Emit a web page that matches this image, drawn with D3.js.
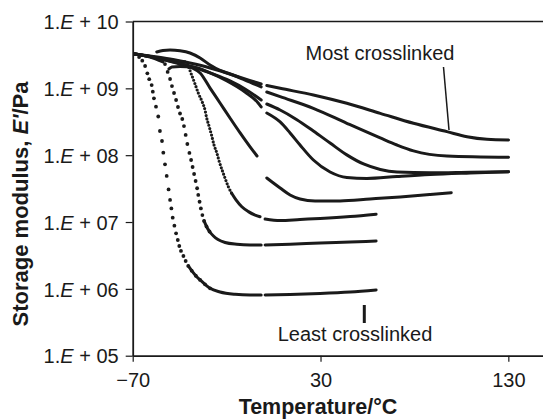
<!DOCTYPE html>
<html><head><meta charset="utf-8">
<script src="https://cdn.jsdelivr.net/npm/d3@7"></script>
<style>body{margin:0;background:#fff}svg{display:block}</style>
</head><body>
<svg id="c" width="543" height="419"></svg>
<script>
// ---- data (temperature °C, storage modulus Pa) ----
const tempTicks = [-70, 30, 130];
const modulusTicks = [1e5, 1e6, 1e7, 1e8, 1e9, 1e10];
const tickExponents = ["05", "06", "07", "08", "09", "10"];

// least crosslinked: individual measured points on the steep drop
const c1Dots = [[-68.8,3.26e9],[-66.6,2.94e9],[-64.9,2.59e9],[-63.4,2.16e9],[-62.2,1.68e9],[-61.2,1.37e9],[-59.9,1.12e9],[-59.3,8.91e8],[-58.7,7.10e8],[-57.6,5.31e8],[-56.4,3.79e8],[-55.5,2.30e8],[-54.4,1.63e8],[-53.7,1.09e8],[-52.8,7.31e7],[-51.9,4.89e7],[-50.9,3.07e7],[-50.1,2.14e7],[-49.4,1.60e7],[-48.7,1.16e7],[-47.8,8.81e6],[-46.9,6.78e6],[-46.0,5.38e6],[-45.2,4.38e6],[-44.3,3.69e6],[-43.0,3.10e6],[-41.8,2.61e6],[-40.4,2.20e6],[-38.6,1.87e6],[-36.4,1.57e6],[-34.1,1.36e6],[-31.5,1.17e6],[-28.8,1.02e6]];
const c1Line = [[-40.4,2.20e6],[-38.6,1.87e6],[-36.4,1.57e6],[-34.1,1.36e6],[-31.5,1.17e6],[-28.8,1.02e6],[-23.5,8.98e5],[-15.5,8.30e5],[-7.5,8.10e5],[-1.6,8.10e5],null,[0.5,8.10e5],[13.8,8.24e5],[29.8,8.53e5],[45.8,8.98e5],[59.6,9.62e5]];

const c2Dots = [[-52.8,2.31e9],[-51.4,1.76e9],[-50.1,1.38e9],[-49.1,1.08e9],[-48.0,8.51e8],[-46.9,6.69e8],[-45.9,5.26e8],[-44.8,4.20e8],[-43.6,3.48e8],[-42.7,2.73e8],[-41.8,2.01e8],[-40.9,1.47e8],[-39.8,1.08e8],[-38.9,8.47e7],[-38.1,6.65e7],[-37.3,5.23e7],[-36.5,4.11e7],[-35.7,3.20e7],[-35.1,2.54e7],[-34.4,2.01e7],[-33.7,1.60e7],[-32.9,1.27e7],[-32.0,1.04e7],[-30.7,8.58e6],[-29.1,7.21e6]];
const c2Line = [[-68.8,3.26e9],[-60.8,2.94e9],[-53.9,2.48e9],null,[-32.0,1.04e7],[-30.7,8.58e6],[-29.1,7.21e6],[-27.0,6.18e6],[-24.6,5.48e6],[-20.8,4.94e6],[-14.6,4.64e6],[-7.5,4.53e6],[-1.6,4.53e6],null,[0.5,4.53e6],[13.8,4.64e6],[29.8,4.85e6],[45.8,5.02e6],[59.6,5.20e6]];

const c3Dots = [[-42.1,2.48e9],[-40.5,2.16e9],[-38.6,1.58e9],[-36.8,1.16e9],[-35.1,8.51e8],[-33.2,6.47e8],[-31.5,4.74e8],[-30.6,3.60e8],[-29.2,2.64e8],[-27.9,1.94e8],[-26.7,1.42e8],[-25.2,1.08e8],[-23.9,8.0e7],[-22.4,6.00e7],[-20.8,4.51e7],[-19.1,3.38e7],[-17.3,2.69e7]];
const c3Line = [[-68.8,3.26e9],[-60.8,2.99e9],[-50.1,2.66e9],[-42.1,2.48e9],null,[-17.3,2.69e7],[-15.0,2.14e7],[-11.9,1.69e7],[-8.4,1.43e7],[-4.8,1.27e7],[-2.2,1.20e7],null,[0.5,1.11e7],[8.5,1.05e7],[19.1,1.09e7],[29.8,1.13e7],[45.8,1.21e7],[59.6,1.31e7]];

const c4Line = [[-68.8,3.26e9],[-60.8,2.99e9],[-52.8,2.66e9],[-44.8,2.31e9],[-38.4,2.02e9],[-34.1,1.70e9],[-28.8,1.01e9],[-23.5,6.04e8],[-18.2,3.60e8],[-12.8,2.15e8],[-7.5,1.33e8],[-3.8,9.72e7],null,[1.4,4.56e7],[4.2,3.97e7],[8.5,3.23e7],[13.8,2.54e7],[19.1,2.21e7],[27.1,2.07e7],[40.4,2.07e7],[56.4,2.21e7],[72.4,2.37e7],[88.4,2.58e7],[99.6,2.75e7]];

const c5Line = [[-50.7,1.95e9],[-49.1,2.09e9],[-44.8,2.12e9],[-37.9,2.09e9],[-28.8,1.70e9],[-19.8,1.29e9],[-10.2,8.81e8],[-3.2,6.04e8],[-1.6,5.26e8],null,[1.4,4.28e8],[8.5,3.14e8],[13.8,2.15e8],[19.1,1.42e8],[26.2,8.47e7],[35.1,5.61e7],[44.0,4.64e7],[54.7,4.48e7],[70.7,4.80e7],[88.4,5.14e7],[109.7,5.42e7],[130.1,5.66e7]];

const c6Line = [[-68.8,3.26e9],[-60.8,2.99e9],[-50.1,2.56e9],[-39.5,2.16e9],[-28.8,1.70e9],[-18.2,1.29e9],[-10.2,9.78e8],[-1.6,6.69e8],null,[1.4,5.83e8],[8.5,4.74e8],[17.4,3.40e8],[26.2,2.30e8],[35.1,1.52e8],[44.0,1.01e8],[52.9,7.38e7],[61.8,6.11e7],[70.7,5.61e7],[88.4,5.47e7],[109.7,5.57e7],[130.1,5.66e7]];

const c7Line = [[-68.8,3.26e9],[-60.8,3.05e9],[-50.1,2.75e9],[-39.5,2.39e9],[-28.8,2.02e9],[-18.2,1.64e9],[-10.2,1.33e9],[-1.6,1.05e9],null,[1.4,8.81e8],[8.5,7.50e8],[26.2,5.03e8],[44.0,3.00e8],[61.8,1.81e8],[70.7,1.42e8],[79.5,1.16e8],[97.3,9.72e7],[130.1,9.30e7]];

// most crosslinked
const c8Line = [[-57.2,3.50e9],[-53.9,3.68e9],[-50.1,3.75e9],[-44.8,3.65e9],[-39.5,3.38e9],[-34.1,2.84e9],[-28.8,2.23e9],[-23.5,1.85e9],[-18.2,1.64e9],[-10.2,1.38e9],[-1.6,1.16e9],null,[1.4,1.10e9],[8.5,1.00e9],[26.2,7.95e8],[44.0,5.97e8],[61.8,4.23e8],[79.5,3.00e8],[97.3,2.25e8],[108.0,1.89e8],[118.6,1.73e8],[130.1,1.69e8]];

// ---- drawing ----
const W = 543, H = 419;
const font = '"Liberation Sans", Arial, Helvetica, sans-serif';
const ink = '#1a1a1a';
const x = d3.scaleLinear().domain([-70, 150]).range([132.7, 545.9]);
const y = d3.scaleLog().domain([1e5, 1e10]).range([355.7, 21.5]);
const svg = d3.select('#c');

// top frame line
svg.append('line').attr('x1', x(-70)).attr('x2', W + 10)
  .attr('y1', y(1e10)).attr('y2', y(1e10)).attr('stroke', ink).attr('stroke-width', 1.6);

// y axis
const gy = svg.append('g').attr('transform', `translate(${x(-70)},0)`)
  .call(d3.axisLeft(y).tickValues(modulusTicks).tickSize(7).tickSizeOuter(0).tickPadding(7).tickFormat(() => ''));
gy.select('.domain').attr('stroke', ink).attr('stroke-width', 1.8);
gy.selectAll('.tick line').attr('stroke', ink).attr('stroke-width', 1.2);
gy.selectAll('.tick text').each(function (d, i) {
  const t = d3.select(this);
  t.text(null);
  t.append('tspan').text('1.');
  t.append('tspan').attr('font-style', 'italic').text('E');
  t.append('tspan').text(' + ' + tickExponents[i]);
}).attr('font-size', 20).attr('font-family', font).attr('fill', ink).attr('dy', '0.36em');

// x axis
const gx = svg.append('g').attr('transform', `translate(0,${y(1e5)})`)
  .call(d3.axisBottom(x).tickValues(tempTicks).tickSize(6).tickSizeOuter(0)
    .tickFormat(d => d < 0 ? '\u2212' + Math.abs(d) : String(d)));
gx.select('.domain').attr('stroke', ink).attr('stroke-width', 1.8);
gx.selectAll('.tick line').attr('stroke', ink).attr('stroke-width', 1.2);
gx.selectAll('.tick text').attr('y', 31).attr('dy', 0)
  .attr('font-size', 20).attr('font-family', font).attr('fill', ink);

// axis titles
svg.append('text').attr('x', 318).attr('y', 413.5).attr('text-anchor', 'middle')
  .attr('font-family', font).attr('font-size', 21.5).attr('font-weight', 'bold').attr('fill', ink)
  .text('Temperature/°C');
const yt = svg.append('text').attr('transform', 'translate(28,204) rotate(-90)').attr('text-anchor', 'middle')
  .attr('font-family', font).attr('font-size', 22).attr('font-weight', 'bold').attr('fill', ink);
yt.append('tspan').text('Storage modulus, ');
yt.append('tspan').attr('font-style', 'italic').text("E'");
yt.append('tspan').text('/Pa');

// curves
const line = d3.line().defined(d => d !== null).x(d => x(d[0])).y(d => y(d[1])).curve(d3.curveMonotoneX);
const plot = svg.append('g');
[c1Line, c2Line, c3Line, c4Line, c5Line, c6Line, c7Line, c8Line].forEach(data => {
  plot.append('path').attr('d', line(data)).attr('fill', 'none').attr('stroke', ink)
    .attr('stroke-width', 3).attr('stroke-linecap', 'round').attr('stroke-linejoin', 'round');
});
// densely sampled drop of curve 3 (dotted look)
plot.append('path').attr('d', line(c3Dots)).attr('fill', 'none').attr('stroke', ink)
  .attr('stroke-width', 3.2).attr('stroke-linecap', 'round').attr('stroke-dasharray', '0 3.4');
// sparse points of curves 1, 2
[c1Dots, c2Dots].forEach(data => {
  plot.selectAll(null).data(data).enter().append('circle')
    .attr('cx', d => x(d[0])).attr('cy', d => y(d[1])).attr('r', 1.9).attr('fill', ink);
});

// annotations
svg.append('text').attr('x', 380).attr('y', 60).attr('text-anchor', 'middle')
  .attr('font-family', font).attr('font-size', 20).attr('fill', ink).text('Most crosslinked');
svg.append('line').attr('x1', 443.5).attr('y1', 67).attr('x2', 449).attr('y2', 130)
  .attr('stroke', ink).attr('stroke-width', 1.5);
svg.append('text').attr('x', 355).attr('y', 341).attr('text-anchor', 'middle')
  .attr('font-family', font).attr('font-size', 20).attr('fill', ink).text('Least crosslinked');
svg.append('line').attr('x1', 364.3).attr('y1', 305).attr('x2', 364.3).attr('y2', 323)
  .attr('stroke', ink).attr('stroke-width', 3);
</script>
</body></html>
